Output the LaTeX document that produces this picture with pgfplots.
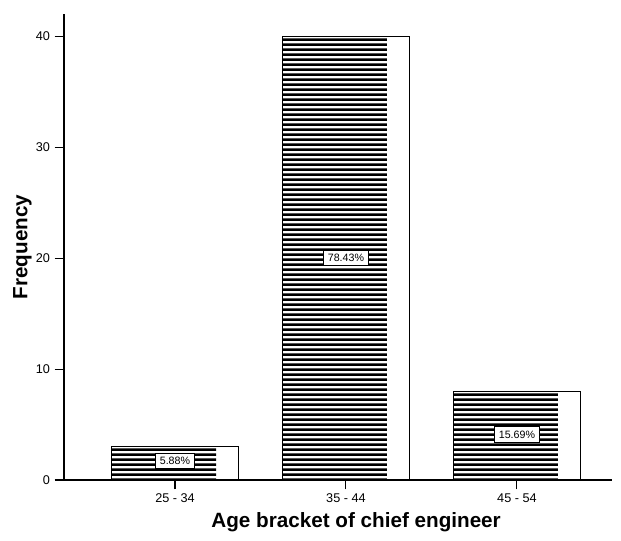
\documentclass[border=0pt]{standalone}
\usepackage{pgfplots}
\pgfplotsset{compat=1.18}
\usepackage{fontspec}
\setmainfont{Liberation Sans}
\usetikzlibrary{patterns}
\pgfdeclarepatternformonly{hl}{\pgfpointorigin}{\pgfqpoint{4pt}{4.1pt}}{\pgfqpoint{4pt}{4.1pt}}{%
  \pgfpathrectangle{\pgfqpoint{-0.1pt}{0pt}}{\pgfqpoint{4.3pt}{2.2pt}}\pgfusepath{fill}}
\begin{document}
\begin{tikzpicture}
\begin{axis}[
  scale only axis,
  width=411pt, height=349.5pt,
  xmin=-0.649, xmax=2.556,
  ymin=0, ymax=42,
  axis x line*=bottom, axis y line*=left,
  axis line style={-, line width=1pt},
  xtick={0,1,2},
  xticklabels={25 - 34, 35 - 44, 45 - 54},
  ytick={0,10,20,30,40},
  tick align=outside,
  major tick length=7pt,
  tick style={black, line width=0.8pt},
  /pgf/number format/assume math mode=true,
  ticklabel style={font=\fontsize{9.5}{10}\selectfont},
  xlabel={Age bracket of chief engineer},
  ylabel={Frequency},
  xlabel style={font=\bfseries\fontsize{15.5}{17}\selectfont, at={(axis description cs:0.533,-0.0901)}, anchor=center},
  ylabel style={font=\bfseries\fontsize{15.5}{17}\selectfont, at={(axis description cs:-0.0760,0.5)}, anchor=center},
  clip=false,
]
% full bar outline (white)
\addplot[ybar, bar width=0.74, fill=white, draw=black, line width=0.9pt] coordinates {(0,3) (1,40) (2,8)};
% hatched part
\addplot[ybar, bar width=0.61, bar shift=-0.065, draw=none, pattern=hl, pattern color=black] coordinates {(0,3) (1,40) (2,8)};
% percentage labels
\addplot[draw=none, mark=none, nodes near coords, point meta=explicit symbolic,
  nodes near coords style={anchor=center, fill=white, draw=black, line width=0.7pt,
    font=\fontsize{8}{9}\selectfont, inner xsep=3pt, inner ysep=3pt}]
  coordinates {(0,1.7) [5.88\%] (1,20) [78.43\%] (2,4.1) [15.69\%]};
\end{axis}
\pgfresetboundingbox
\path ([xshift=-48pt,yshift=-45.75pt]current axis.south west) rectangle ([xshift=6.75pt,yshift=10.5pt]current axis.north east);
\end{tikzpicture}
\end{document}
